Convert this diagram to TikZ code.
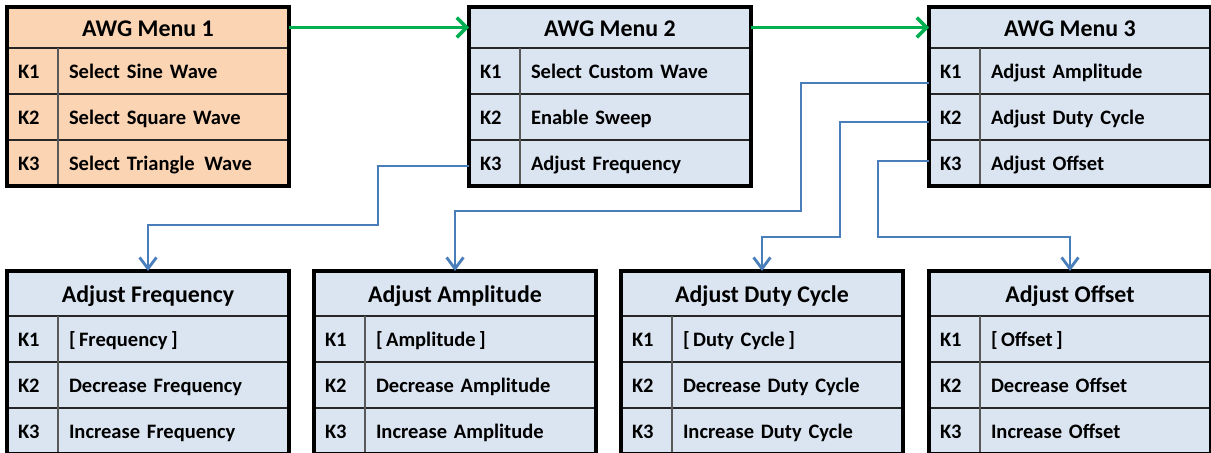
\documentclass[tikz,border=0pt]{standalone}
\usepackage{fontspec}
\setmainfont{Carlito}
\usetikzlibrary{arrows.meta,positioning}
\definecolor{peach}{HTML}{FBD4B4}
\definecolor{paleblue}{HTML}{DBE5F1}
\definecolor{linkblue}{HTML}{4A7EBB}
\definecolor{gogreen}{HTML}{00B050}
\definecolor{gridline}{HTML}{262626}
\definecolor{divider}{HTML}{595959}

% one AWG menu table: name, position, fill, title height, title, K1, K2, K3
\newcommand{\awgmenu}[8]{%
  \node[menutitle, fill=#3, minimum height=#4, anchor=north west] (#1) at (#2) {#5};
  \node[keycell, fill=#3, below=0pt of #1.south west, anchor=north west] (#1k1) {K1};
  \node[itemcell, fill=#3, right=0pt of #1k1] (#1i1) {#6};
  \node[keycell, fill=#3, below=0pt of #1k1] (#1k2) {K2};
  \node[itemcell, fill=#3, right=0pt of #1k2] (#1i2) {#7};
  \node[keycell, fill=#3, below=0pt of #1k2] (#1k3) {K3};
  \node[itemcell, fill=#3, right=0pt of #1k3] (#1i3) {#8};
  \draw[rowline] (#1k1.north west) -- (#1i1.north east)
                 (#1k2.north west) -- (#1i2.north east)
                 (#1k3.north west) -- (#1i3.north east);
  \draw[colline] (#1k1.north east) -- (#1k3.south east);
  \draw[frame] (#1.north west) rectangle (#1i3.south east);
}

\begin{document}
\begin{tikzpicture}[
  menutitle/.style={minimum width=7.05cm, inner sep=0pt, outer sep=0pt,
                    text height=13pt, text depth=0pt,
                    font=\fontsize{17}{19}\selectfont\bfseries},
  keycell/.style={text width=0.725cm, inner xsep=0.275cm, inner ysep=0pt,
                  minimum height=1.15cm, outer sep=0pt, align=left,
                  text height=10.5pt, text depth=0pt,
                  font=\fontsize{14.6}{16}\selectfont\bfseries},
  itemcell/.style={keycell, text width=5.225cm},
  rowline/.style={gridline, line width=1.3pt},
  colline/.style={divider, line width=1.3pt},
  frame/.style={black, line width=2.2pt},
  golink/.style={-{Straight Barb[length=7pt, width=14pt, line width=2.4pt]}, gogreen, line width=2.8pt},
  sublink/.style={-{Straight Barb[length=8pt, width=12pt, line width=2pt]}, linkblue, line width=2pt}
]
  \useasboundingbox (0,0) rectangle (30.275,-11.325);

  % ── Top: the three AWG menus ──
  \awgmenu{mone}{0.175,-0.175}{peach}{1.025cm}{AWG Menu 1}
    {Select Sine Wave}{Select Square Wave}{Select Triangle\hspace{2pt} Wave}
  \awgmenu{mtwo}{11.725,-0.175}{paleblue}{1.025cm}{AWG Menu 2}
    {Select Custom Wave}{Enable Sweep}{Adjust Frequency}
  \awgmenu{mthree}{23.225,-0.175}{paleblue}{1.025cm}{AWG Menu 3}
    {Adjust Amplitude}{Adjust Duty Cycle}{Adjust Offset}

  % ── Bottom: adjust menus ──
  \awgmenu{afreq}{0.175,-6.775}{paleblue}{1.125cm}{Adjust Frequency}
    {[\,Frequency\,]}{Decrease Frequency}{Increase Frequency}
  \awgmenu{aamp}{7.85,-6.775}{paleblue}{1.125cm}{Adjust Amplitude}
    {[\,Amplitude\,]}{Decrease Amplitude}{Increase Amplitude}
  \awgmenu{aduty}{15.525,-6.775}{paleblue}{1.125cm}{Adjust Duty Cycle}
    {[\,Duty Cycle\,]}{Decrease Duty Cycle}{Increase Duty Cycle}
  \awgmenu{aoff}{23.225,-6.775}{paleblue}{1.125cm}{Adjust Offset}
    {[\,Offset\,]}{Decrease Offset}{Increase Offset}

  % menu to menu
  \draw[golink] (mone.east) -- (mtwo.west);
  \draw[golink] (mtwo.east) -- (mthree.west);

  % bends of the key links
  \coordinate (bfreq) at (9.45,-5.625);
  \coordinate (bamp)  at (20.025,-5.275);
  \coordinate (bduty) at (21.0,-5.925);
  \coordinate (boff)  at (21.95,-5.925);

  % keys to adjust menus
  \draw[sublink] ([yshift=-0.075cm]mtwok3.west) -| (bfreq) -| (afreq.north);
  \draw[sublink] ([yshift=-0.3cm]mthreek1.west) -| (bamp) -| (aamp.north);
  \draw[sublink] ([yshift=-0.125cm]mthreek2.west) -| (bduty) -| (aduty.north);
  \draw[sublink] ([yshift=0.05cm]mthreek3.west) -| (boff) -| (aoff.north);
\end{tikzpicture}
\end{document}
